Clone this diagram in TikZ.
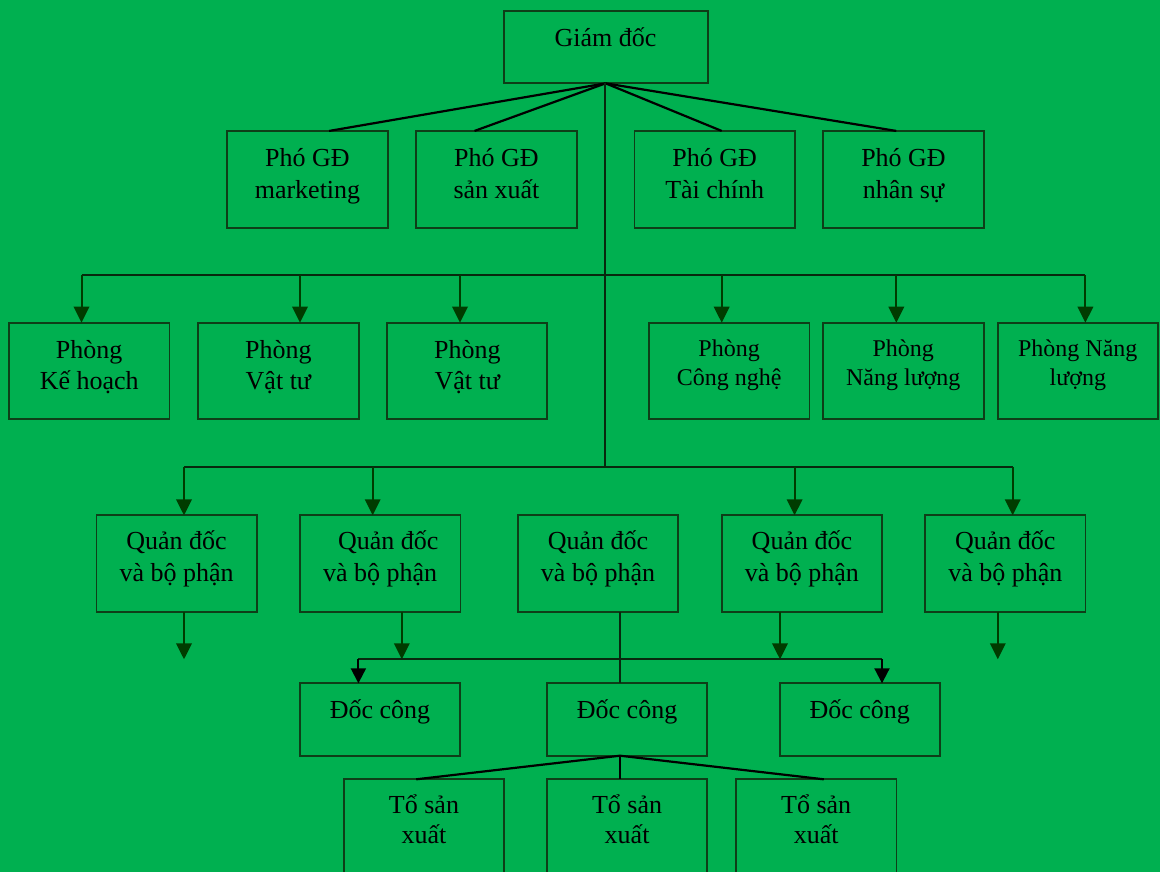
\documentclass[tikz,border=0pt]{standalone}
\usepackage{fontspec}
\setmainfont{Liberation Serif}
\usetikzlibrary{arrows.meta}
\definecolor{bg}{RGB}{0,176,80}
\definecolor{edge}{RGB}{14,62,24}
\definecolor{wire}{RGB}{8,40,14}
\definecolor{tipgreen}{RGB}{0,60,0}
\tikzset{
  box/.style={draw=edge, line width=1.8pt, fill=bg, inner sep=0pt, outer sep=0pt},
  lbl/.style={anchor=base, align=center, inner sep=0pt, outer sep=0pt,
              font=\fontsize{26}{32}\selectfont},
  small/.style={font=\fontsize{24}{28.3}\selectfont},
  link/.style={draw=black, line width=2.2pt},
  bus/.style={draw=wire, line width=2pt},
  garrow/.style={draw=tipgreen, line width=2pt,
                 -{Triangle[length=16pt,width=15.5pt]}, tipgreen},
  karrow/.style={draw=black, line width=2pt,
                 -{Triangle[length=15pt,width=15pt]}, black},
}
% \orgbox[label options]{name}{cx}{cy}{width}{height}{last baseline}{text}
\newcommand\orgbox[8][]{%
  \node[box, minimum width=#5pt, minimum height=#6pt] (#2) at (#3,#4) {};
  \node[lbl,#1] (#2-t) at (#3,#7) {#8};}
\begin{document}
\begin{tikzpicture}[x=1pt,y=-1pt]
\fill[bg] (0,0) rectangle (1160,872);
\useasboundingbox (0,0) rectangle (1160,872);
\clip (0,0) rectangle (1160,872);

% director
\orgbox{gd}{605.6}{47.2}{204}{72.3}{46.7}{Giám đốc}

% deputy directors
\orgbox{pm}{307.5}{179.3}{160.4}{96.7}{198}{Phó GĐ\\marketing}
\orgbox{ps}{496.5}{179.3}{160.4}{96.7}{198}{Phó GĐ\\sản xuất}
\orgbox{pt}{714.7}{179.3}{160.4}{96.7}{198}{Phó GĐ\\Tài chính}
\orgbox{pn}{903.5}{179.3}{160.4}{96.7}{198}{Phó GĐ\\nhân sự}

% departments
\orgbox[font=\fontsize{26}{31}\selectfont]{k1}{89.2}{371}{160.6}{96.6}{389.3}{Phòng\\Kế hoạch}
\orgbox[font=\fontsize{26}{31}\selectfont]{v1}{278.4}{371}{160.4}{96.6}{389.3}{Phòng\\Vật tư}
\orgbox[font=\fontsize{26}{31}\selectfont]{v2}{467.3}{371}{160}{96.6}{389.3}{Phòng\\Vật tư}
\orgbox[small]{cn}{729.1}{371}{160.6}{96.6}{385}{Phòng\\Công nghệ}
\orgbox[small]{nl}{903.3}{371}{160.6}{96.6}{385}{Phòng\\Năng lượng}
\orgbox[small]{nl2}{1077.8}{371}{160.2}{96.6}{385}{Phòng Năng\\lượng}

% workshop managers
\orgbox{q1}{176.6}{563.5}{160.4}{96.4}{581.7}{Quản đốc\\và bộ phận}
\orgbox{q2}{380.2}{563.5}{160.4}{96.4}{581.7}{\hspace*{16pt}Quản đốc\\và bộ phận}
\orgbox{q3}{598}{563.5}{160.5}{96.4}{581.7}{Quản đốc\\và bộ phận}
\orgbox{q4}{801.9}{563.5}{160}{96.4}{581.7}{Quản đốc\\và bộ phận}
\orgbox{q5}{1005.3}{563.5}{160.3}{96.4}{581.7}{Quản đốc\\và bộ phận}

% foremen
\orgbox{d1}{380}{719.5}{159.8}{72.4}{718}{Đốc công}
\orgbox{d2}{627.1}{719.5}{160.2}{72.4}{718}{Đốc công}
\orgbox{d3}{859.7}{719.5}{160.2}{72.4}{718}{Đốc công}

% production teams
\orgbox[font=\fontsize{26}{30}\selectfont]{t1}{424}{839.3}{160.3}{120}{843.3}{Tổ sản\\xuất}
\orgbox[font=\fontsize{26}{30}\selectfont]{t2}{627.1}{839.3}{160.2}{120}{843.3}{Tổ sản\\xuất}
\orgbox[font=\fontsize{26}{30}\selectfont]{t3}{816.2}{839.3}{160.7}{120}{843.3}{Tổ sản\\xuất}

% bus levels
\coordinate (b1) at (605.2,275);
\coordinate (b2) at (605.2,467.3);
\coordinate (b3) at (620,659.3);

% director to deputies
\draw[link] (gd.south) -- ([xshift=21.6pt]pm.north);
\draw[link] (gd.south) -- ([xshift=-22pt]ps.north);
\draw[link] (gd.south) -- ([xshift=7pt]pt.north);
\draw[link] (gd.south) -- ([xshift=-7.2pt]pn.north);

% main trunk
\draw[bus] ([xshift=-0.4pt]gd.south) -- ([xshift=-0.4pt]gd.south |- b2);

% department bus
\draw[bus] ([xshift=-7.7pt]k1.north |- b1) -- ([xshift=7.6pt]nl2.north |- b1);
\draw[garrow] ([xshift=-7.7pt]k1.north |- b1) -- ([xshift=-7.7pt]k1.north);
\draw[garrow] ([xshift=21.6pt]v1.north |- b1) -- ([xshift=21.6pt]v1.north);
\draw[garrow] ([xshift=-7.3pt]v2.north |- b1) -- ([xshift=-7.3pt]v2.north);
\draw[garrow] ([xshift=-7.4pt]cn.north |- b1) -- ([xshift=-7.4pt]cn.north);
\draw[garrow] ([xshift=-7pt]nl.north |- b1) -- ([xshift=-7pt]nl.north);
\draw[garrow] ([xshift=7.6pt]nl2.north |- b1) -- ([xshift=7.6pt]nl2.north);

% workshop bus
\draw[bus] ([xshift=7.4pt]q1.north |- b2) -- ([xshift=7.4pt]q5.north |- b2);
\draw[garrow] ([xshift=7.4pt]q1.north |- b2) -- ([xshift=7.4pt]q1.north);
\draw[garrow] ([xshift=-7.5pt]q2.north |- b2) -- ([xshift=-7.5pt]q2.north);
\draw[garrow] ([xshift=-7.3pt]q4.north |- b2) -- ([xshift=-7.3pt]q4.north);
\draw[garrow] ([xshift=7.4pt]q5.north |- b2) -- ([xshift=7.4pt]q5.north);

% managers downwards
\draw[garrow] ([xshift=7.4pt]q1.south) -- ([xshift=7.4pt]q1.south |- b3);
\draw[garrow] ([xshift=21.6pt]q2.south) -- ([xshift=21.6pt]q2.south |- b3);
\draw[garrow] ([xshift=-21.9pt]q4.south) -- ([xshift=-21.9pt]q4.south |- b3);
\draw[garrow] ([xshift=-7.5pt]q5.south) -- ([xshift=-7.5pt]q5.south |- b3);
\draw[bus] ([xshift=21.7pt]q3.south) -- ([xshift=21.7pt]q3.south |- d2.north);

% foreman bus
\draw[bus] ([xshift=-21.6pt]d1.north |- b3) -- ([xshift=22.3pt]d3.north |- b3);
\draw[karrow] ([xshift=-21.6pt]d1.north |- b3) -- ([xshift=-21.6pt]d1.north);
\draw[karrow] ([xshift=22.3pt]d3.north |- b3) -- ([xshift=22.3pt]d3.north);

% foreman to teams
\draw[link] ([xshift=-7.1pt]d2.south) -- ([xshift=-7.8pt]t1.north);
\draw[link] ([xshift=-7.1pt]d2.south) -- ([xshift=-7.1pt]t2.north);
\draw[link] ([xshift=-7.1pt]d2.south) -- ([xshift=7.6pt]t3.north);
\end{tikzpicture}
\end{document}
